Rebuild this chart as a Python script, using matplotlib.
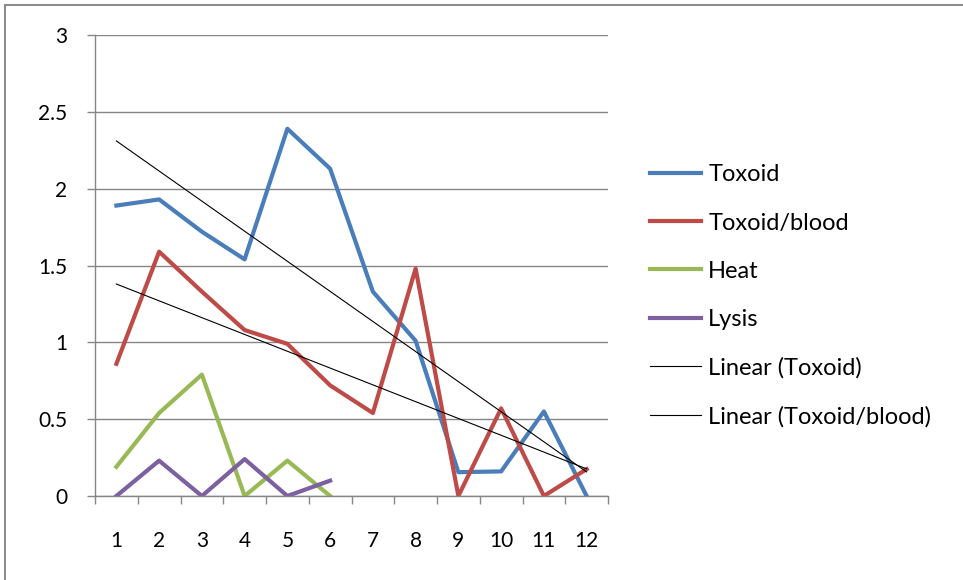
import numpy as np
import matplotlib
matplotlib.use("Agg")
import matplotlib.pyplot as plt
from matplotlib.patches import Rectangle

plt.rcParams['font.family'] = ['Lato', 'DejaVu Sans']

categories = [1, 2, 3, 4, 5, 6, 7, 8, 9, 10, 11, 12]
toxoid = [1.89, 1.93, 1.72, 1.54, 2.39, 2.13, 1.33, 1.01, 0.155, 0.16, 0.55, 0.0]
toxoid_blood = [0.86, 1.59, 1.33, 1.08, 0.99, 0.72, 0.54, 1.48, 0.0, 0.57, 0.0, 0.175]
heat = [0.19, 0.54, 0.79, 0.0, 0.23, 0.0]
lysis = [0.0, 0.23, 0.0, 0.24, 0.0, 0.10]
y_ticks = [0, 0.5, 1, 1.5, 2, 2.5, 3]
y_tick_labels = ['0', '0.5', '1', '1.5', '2', '2.5', '3']

fig = plt.figure(figsize=(9.63, 5.80), dpi=100)
fig.patches.append(Rectangle((5/963, -0.1), 1.2, (580-5)/580 + 0.1, transform=fig.transFigure,
                             fill=False, edgecolor='#8c8c8c', linewidth=1.5))
ax = fig.add_axes([95/963, (580-496)/580, 513/963, 461/580])

x = np.array(categories)
ax.plot(x, toxoid, color='#4A7EBB', lw=3, label='Toxoid')
ax.plot(x, toxoid_blood, color='#BE4B48', lw=3, label='Toxoid/blood')
ax.plot(x[:len(heat)], heat, color='#98B954', lw=3, label='Heat')
ax.plot(x[:len(lysis)], lysis, color='#7D60A0', lw=3, label='Lysis')

c1 = np.polyfit(x, toxoid, 1)
c2 = np.polyfit(x, toxoid_blood, 1)
ax.plot(x, np.polyval(c1, x), color='black', lw=0.8, label='Linear (Toxoid)')
ax.plot(x, np.polyval(c2, x), color='black', lw=0.8, label='Linear (Toxoid/blood)')

ax.set_xlim(0.5, 12.5)
ax.set_ylim(0, 3)
ax.set_yticks(y_ticks)
ax.set_yticklabels(y_tick_labels)
ax.set_xticks(x)
ax.set_xticklabels([str(c) for c in categories])
ax.set_xticks(np.arange(0.5, 13, 1), minor=True)
ax.tick_params(axis='x', which='major', length=0, pad=25, labelsize=15, colors='black')
ax.tick_params(axis='x', which='minor', length=6, color='#868686', width=1)
ax.tick_params(axis='y', which='major', length=6, color='#868686', width=1, pad=14, labelsize=15)
ax.grid(axis='y', color='#868686', lw=1)
ax.set_axisbelow(True)
for s in ['top', 'right']:
    ax.spines[s].set_visible(False)
for s in ['left', 'bottom']:
    ax.spines[s].set_color('#868686')
    ax.spines[s].set_linewidth(1)

leg = ax.legend(loc='upper left', bbox_to_anchor=(641/963, 1 - 155/580), bbox_transform=fig.transFigure,
                frameon=False, fontsize=17, handlelength=2.15, handletextpad=0.3, labelspacing=1.15,
                borderaxespad=0)

fig.savefig('out.png', dpi=100)
